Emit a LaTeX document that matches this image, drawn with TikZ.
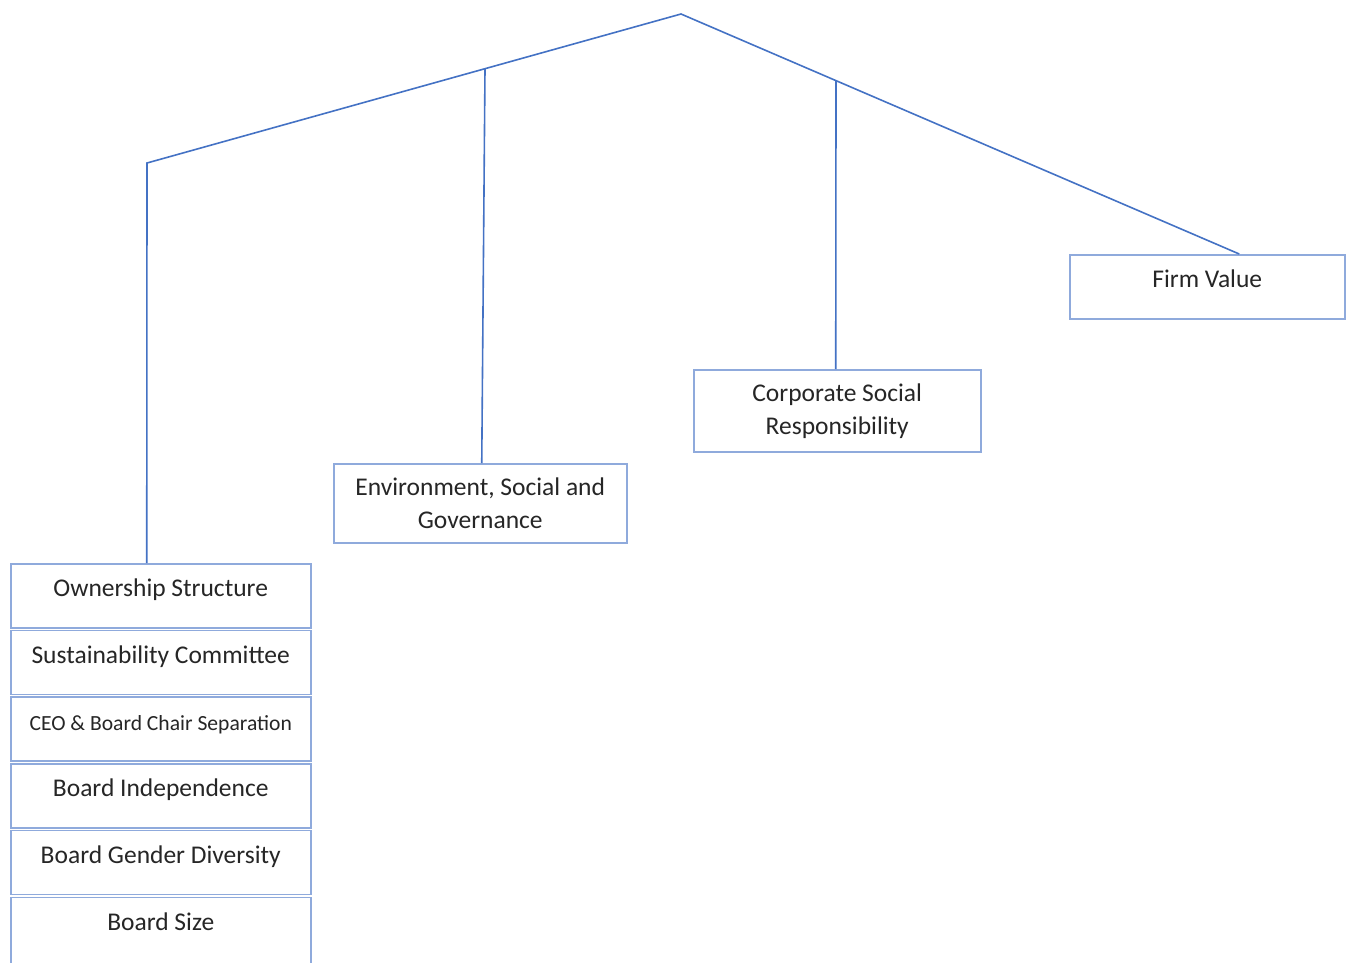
\documentclass[tikz,border=0pt]{standalone}
\usepackage{fontspec}
\setmainfont{Carlito}
\usetikzlibrary{positioning}

\definecolor{linkblue}{RGB}{68,114,196}
\definecolor{boxblue}{RGB}{143,170,220}
\definecolor{inkgray}{RGB}{38,38,38}

\tikzset{
    box/.style={draw=boxblue, line width=1.5pt, fill=white, inner sep=0pt,
        text=inkgray, font=\fontsize{25.5pt}{33pt}\selectfont},
    onebox/.style={box, text height=33pt, text depth=31pt},
    twobox/.style={box, align=center},
    link/.style={draw=linkblue, line width=1.6pt},
}

\begin{document}
\begin{tikzpicture}[x=1pt, y=-1pt, node distance=1.2pt]
    \useasboundingbox (0, 0) rectangle (1350, 962);
        % top line points
        \coordinate (apex) at (681, 14);
        \coordinate (jl) at (147, 163);
        \coordinate (jesg) at (485, 69);
        \coordinate (jcsr) at (836, 81);
        % boxes
        \node [onebox, anchor=north west, minimum width=275pt] (fv) at (1069, 254) {Firm Value};
        \node [twobox, anchor=north west, minimum width=287pt, minimum height=82pt] (csr) at (693, 369) {Corporate Social\\Responsibility};
        \node [twobox, anchor=north west, minimum width=293pt, minimum height=79pt] (esg) at (333, 463) {Environment, Social and\\Governance};
        \node [onebox, anchor=north west, minimum width=300pt] (own) at (10, 563) {Ownership Structure};
        \node [onebox, minimum width=300pt, below=of own] (sus) {Sustainability Committee};
        \node [onebox, minimum width=300pt, below=of sus, font=\fontsize{21.6pt}{28pt}\selectfont] (ceo) {CEO \& Board Chair Separation};
        \node [onebox, minimum width=300pt, below=of ceo] (ind) {Board Independence};
        \node [onebox, minimum width=300pt, below=of ind] (gen) {Board Gender Diversity};
        \node [onebox, minimum width=300pt, below=of gen, text depth=60pt] (size) {Board Size};
        % connectors
        \draw[link] ([xshift=-14pt]own.north) -- (jl) -- (apex) -- ([xshift=32pt]fv.north);
        \draw[link] (jesg) -- ([xshift=1.5pt]esg.north);
        \draw[link] (jcsr) -- ([xshift=-1.5pt]csr.north);
    \end{tikzpicture}
\end{document}
